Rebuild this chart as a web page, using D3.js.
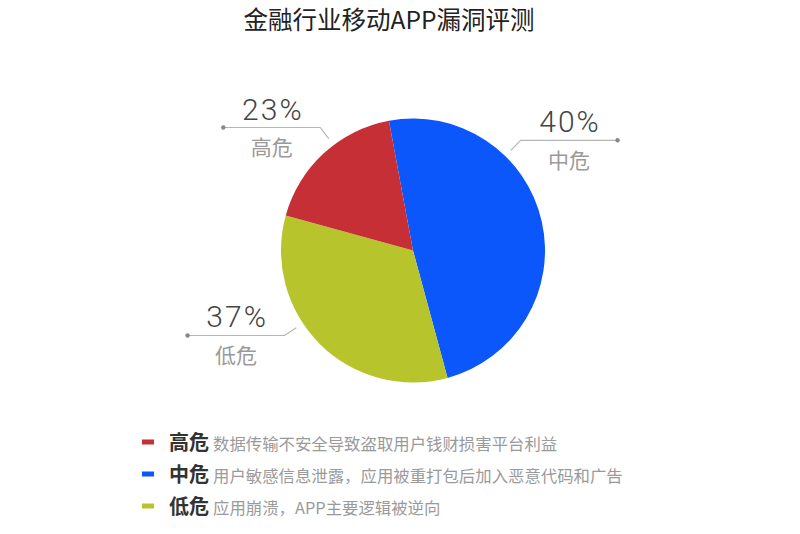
<!DOCTYPE html>
<html>
<head>
<meta charset="utf-8">
<script src="https://cdn.jsdelivr.net/npm/d3@7"></script>
<style>
  body { margin: 0; background: #fff; }
  svg { display: block; font-family: "Noto Sans CJK SC", "Noto Sans", sans-serif; }
</style>
</head>
<body>
<div id="chart"></div>
<script>
// Data
const title = "金融行业移动APP漏洞评测";
const categories = ["中危", "低危", "高危"];
const sliceValues = [48.7, 33.5, 17.8];      // slice sizes as drawn
const percentLabels = ["40%", "37%", "23%"];  // printed labels
const legendOrder = ["高危", "中危", "低危"];
const descriptions = {
    "高危": "数据传输不安全导致盗取用户钱财损害平台利益",
    "中危": "用户敏感信息泄露，应用被重打包后加入恶意代码和广告",
    "低危": "应用崩溃，APP主要逻辑被逆向"
};

// Layout
const width = 800, height = 534;
const cx = 413, cy = 250.5, radius = 132;
const startAngle = -10.5 * Math.PI / 180;
const colors = { "中危": "#0b57fb", "低危": "#b7c42c", "高危": "#c72f37" };
const leaderAngle = { "中危": 44.3, "低危": 236.5, "高危": 323 }; // degrees, clockwise from top
const leaderLen = 97;

const svg = d3.select("#chart").append("svg")
    .attr("width", width)
    .attr("height", height);

// Title
svg.append("text")
    .attr("x", 389).attr("y", 28.5)
    .attr("text-anchor", "middle")
    .style("font-size", "24.5px")
    .style("fill", "#222")
    .text(title);

// Pie
const pie = d3.pie().sort(null).value(d => d.value)
    .startAngle(startAngle).endAngle(startAngle + 2 * Math.PI);
const arc = d3.arc().innerRadius(0).outerRadius(radius);

const sliceData = categories.map((c, i) => ({ name: c, value: sliceValues[i], label: percentLabels[i] }));

const g = svg.append("g").attr("transform", "translate(" + cx + "," + cy + ")");
g.selectAll("path.slice")
    .data(pie(sliceData))
    .enter().append("path")
    .attr("class", "slice")
    .attr("fill", d => colors[d.data.name])
    .attr("d", arc);

// Leader lines and labels
const polar = (deg, r) => {
    const a = deg * Math.PI / 180;
    return [r * Math.sin(a), -r * Math.cos(a)];
};

sliceData.forEach(d => {
    const deg = leaderAngle[d.name];
    const p0 = polar(deg, 140);
    const p1 = polar(deg, 154);
    const dir = p1[0] >= 0 ? 1 : -1;
    const p2 = [p1[0] + dir * leaderLen, p1[1]];

    g.append("polyline")
        .attr("points", [p0, p1, p2].map(p => p.join(",")).join(" "))
        .attr("fill", "none")
        .attr("stroke", "#b5b5b5")
        .attr("stroke-width", 1.2);
    g.append("circle")
        .attr("cx", p2[0]).attr("cy", p2[1]).attr("r", 2.2)
        .attr("fill", "#888");

    const mx = (p1[0] + p2[0]) / 2;
    g.append("text")
        .attr("x", mx + 1).attr("y", p1[1] - 8)
        .attr("text-anchor", "middle")
        .style("font-family", "Roboto, 'Liberation Sans', sans-serif")
        .style("font-weight", 300)
        .style("font-size", "30px")
        .style("letter-spacing", "2px")
        .style("fill", "#444")
        .text(d.label);
    g.append("text")
        .attr("x", mx).attr("y", p1[1] + 27.5)
        .attr("text-anchor", "middle")
        .style("font-size", "21px")
        .style("fill", "#9a9a9a")
        .text(d.name);
});

// Legend
const legendY = d3.scalePoint().domain(legendOrder).range([442, 506]);
const legend = svg.append("g");
legendOrder.forEach(name => {
    const y = legendY(name);
    legend.append("rect")
        .attr("x", 142).attr("y", y - 2.5)
        .attr("width", 12).attr("height", 5)
        .attr("fill", colors[name]);
    legend.append("text")
        .attr("x", 169).attr("y", y + 8)
        .style("font-size", "20px")
        .style("font-weight", "bold")
        .style("fill", "#333")
        .text(name);
    legend.append("text")
        .attr("x", 213).attr("y", y + 8)
        .style("font-size", "16.4px")
        .style("fill", "#9a9a9a")
        .text(descriptions[name]);
});
</script>
</body>
</html>
